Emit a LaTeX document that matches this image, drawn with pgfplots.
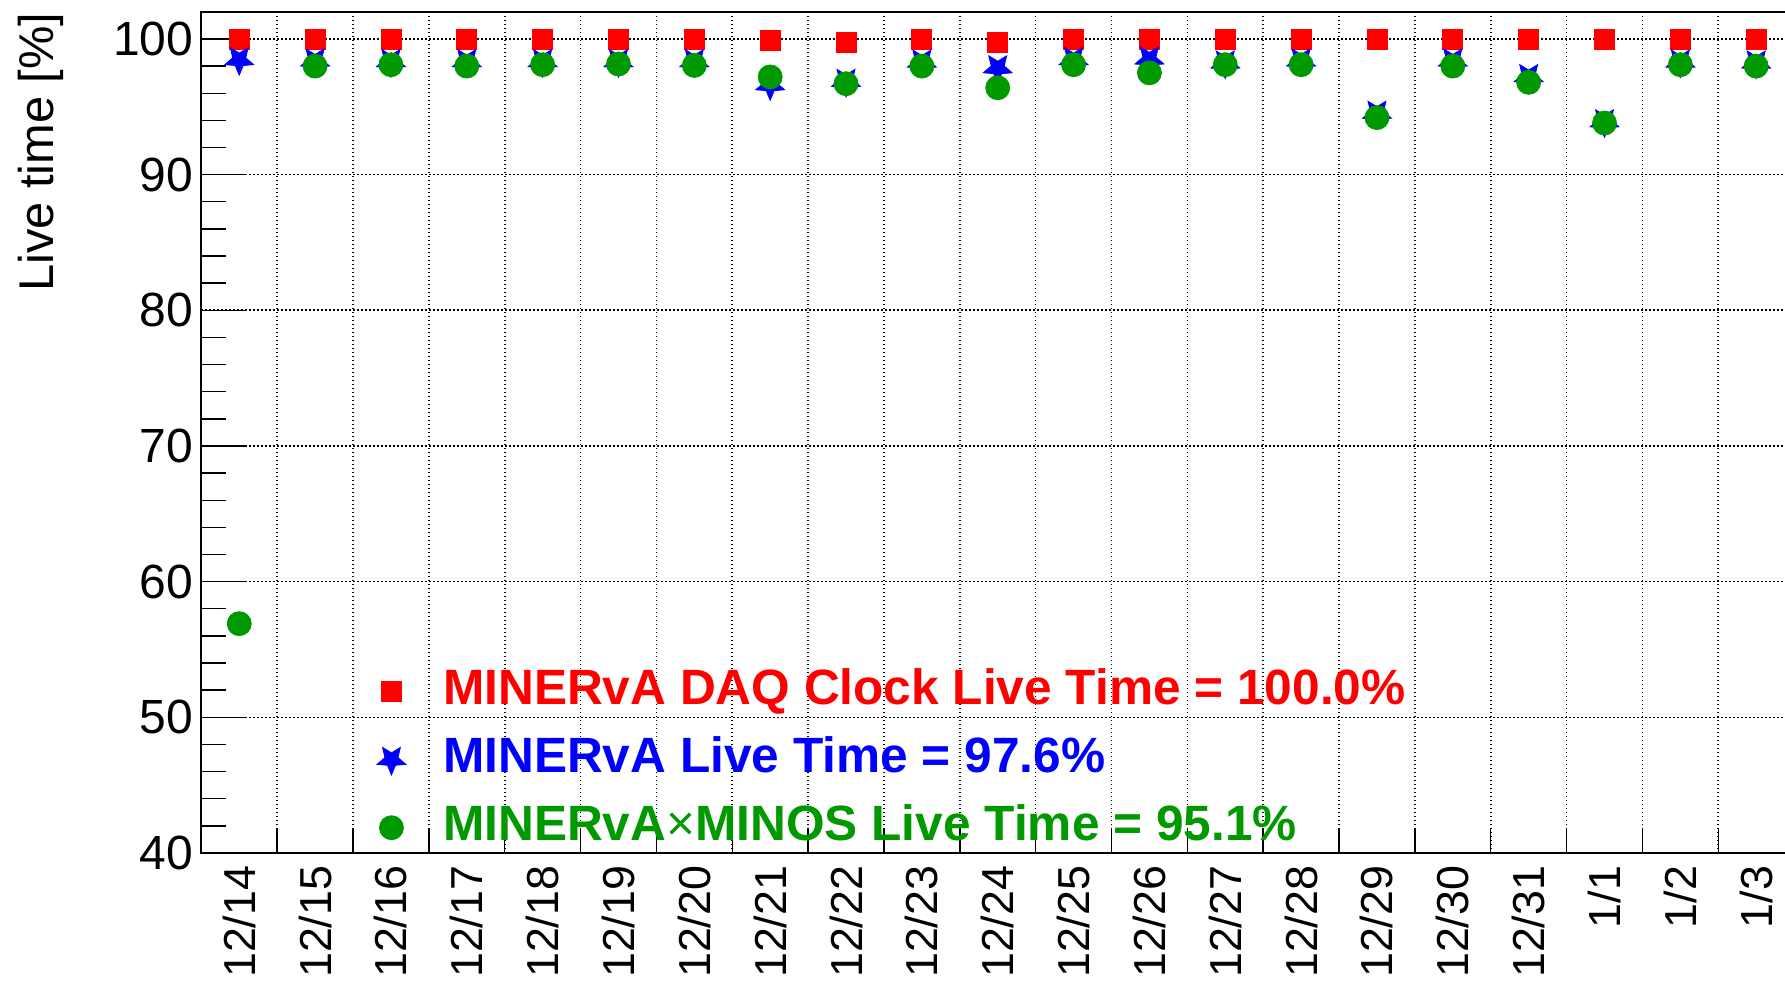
\documentclass[border=0pt]{standalone}
\usepackage{fontspec}
\setmainfont{Liberation Sans}
\usepackage{pgfplots}
\pgfplotsset{compat=1.18}
\usetikzlibrary{plotmarks}
\definecolor{rootgreen}{RGB}{0,153,0}
\definecolor{rootred}{RGB}{255,0,0}
\definecolor{rootblue}{RGB}{0,0,255}
\pgfdeclareplotmark{istar}{%
  \pgfpathmoveto{\pgfpointpolar{-90}{\pgfplotmarksize}}%
  \pgfpathlineto{\pgfpointpolar{-54}{0.45\pgfplotmarksize}}%
  \pgfpathlineto{\pgfpointpolar{-18}{\pgfplotmarksize}}%
  \pgfpathlineto{\pgfpointpolar{18}{0.45\pgfplotmarksize}}%
  \pgfpathlineto{\pgfpointpolar{54}{\pgfplotmarksize}}%
  \pgfpathlineto{\pgfpointpolar{90}{0.45\pgfplotmarksize}}%
  \pgfpathlineto{\pgfpointpolar{126}{\pgfplotmarksize}}%
  \pgfpathlineto{\pgfpointpolar{162}{0.45\pgfplotmarksize}}%
  \pgfpathlineto{\pgfpointpolar{198}{\pgfplotmarksize}}%
  \pgfpathlineto{\pgfpointpolar{234}{0.45\pgfplotmarksize}}%
  \pgfpathclose
  \pgfusepathqfillstroke
}
\tikzset{dotgrid/.style={black, line width=0.4pt, dash pattern=on 0.35pt off 0.65pt}}
\pgfplotsset{
  mk/.style={only marks, line width=0.2pt,
    legend image code/.code={\draw[##1] plot coordinates {(0pt,0pt)};}},
}
\begin{document}
\begin{tikzpicture}
\begin{axis}[
  scale only axis, width=398.21pt, height=210.3pt,
  xmin=-0.5, xmax=20.5, ymin=40, ymax=102,
  axis line style={line width=0.55pt},
  tick pos=left, tick align=inside,
  /pgf/number format/assume math mode=true,
  xtick={0,...,20},
  xticklabels={12/14,12/15,12/16,12/17,12/18,12/19,12/20,12/21,12/22,12/23,12/24,12/25,12/26,12/27,12/28,12/29,12/30,12/31,1/1,1/2,1/3},
  major x tick style={draw=none},
  minor xtick={0.5,1.5,...,19.5},
  xminorgrids=true, xmajorgrids=false,
  minor x grid style={dotgrid},
  ytick={40,50,...,100},
  minor ytick={42,44,...,98},
  ymajorgrids=true, yminorgrids=false,
  major y grid style={dotgrid},
  major tick length=11.25pt, minor tick length=6.1pt,
  tick style={black, line width=0.35pt},
  x tick label style={rotate=90, anchor=east, inner xsep=3pt, inner ysep=0pt, font=\fontsize{11.2}{13}\selectfont},
  y tick label style={anchor=east, inner sep=0pt, xshift=-1.8pt, font=\fontsize{12}{14}\selectfont},
  ylabel={Live time [\%]},
  ylabel style={at={(axis description cs:-0.0929,1)}, anchor=base east, inner sep=0pt, font=\fontsize{12.2}{14}\selectfont},
  legend cell align=left,
  legend style={draw=none, fill=none, at={(0.1098,0.2200)}, anchor=north west, inner sep=0pt,
    row sep=5.5pt, font=\fontsize{12.4}{14.5}\selectfont\bfseries,
    nodes={inner sep=0pt, text height=9pt, text depth=2.5pt},
    /tikz/every odd column/.style={column sep=9.3pt}},
]
\addplot[mk, mark=square*, mark size=2.5pt, color=rootred] coordinates {
(0,100) (1,100) (2,100) (3,100) (4,100) (5,100) (6,100) (7,99.88) (8,99.75) (9,100)
(10,99.75) (11,100) (12,100) (13,100) (14,100) (15,100) (16,100) (17,100) (18,100) (19,100) (20,100)};
\addlegendentry{\textcolor{rootred}{MINERvA DAQ Clock Live Time = 100.0\%}}
\addplot[mk, mark=istar, mark size=3.8pt, color=rootblue] coordinates {
(0,98.45) (1,98.35) (2,98.3) (3,98.3) (4,98.3) (5,98.3) (6,98.3) (7,96.6) (8,96.85) (9,98.27)
(10,97.85) (11,98.45) (12,98.5) (13,98.2) (14,98.35) (15,94.5) (16,98.35) (17,97.2) (18,93.87) (19,98.27) (20,98.2)};
\addlegendentry{\textcolor{rootblue}{MINERvA Live Time = 97.6\%}}
\addplot[mk, mark=*, mark size=3pt, color=rootgreen] coordinates {
(0,56.9) (1,98.0) (2,98.1) (3,98.0) (4,98.1) (5,98.15) (6,98.05) (7,97.2) (8,96.7) (9,98.0)
(10,96.4) (11,98.1) (12,97.5) (13,98.1) (14,98.1) (15,94.2) (16,98.0) (17,96.8) (18,93.8) (19,98.1) (20,98.0)};
\addlegendentry{\textcolor{rootgreen}{MINERvA{\fontseries{m}\selectfont ×}MINOS Live Time = 95.1\%}}
\end{axis}
\pgfresetboundingbox
\path[use as bounding box] ([shift={(-50.33pt,-32.5pt)}]current axis.south west) rectangle ([shift={(395.93pt,213.25pt)}]current axis.south west);
\end{tikzpicture}
\end{document}
